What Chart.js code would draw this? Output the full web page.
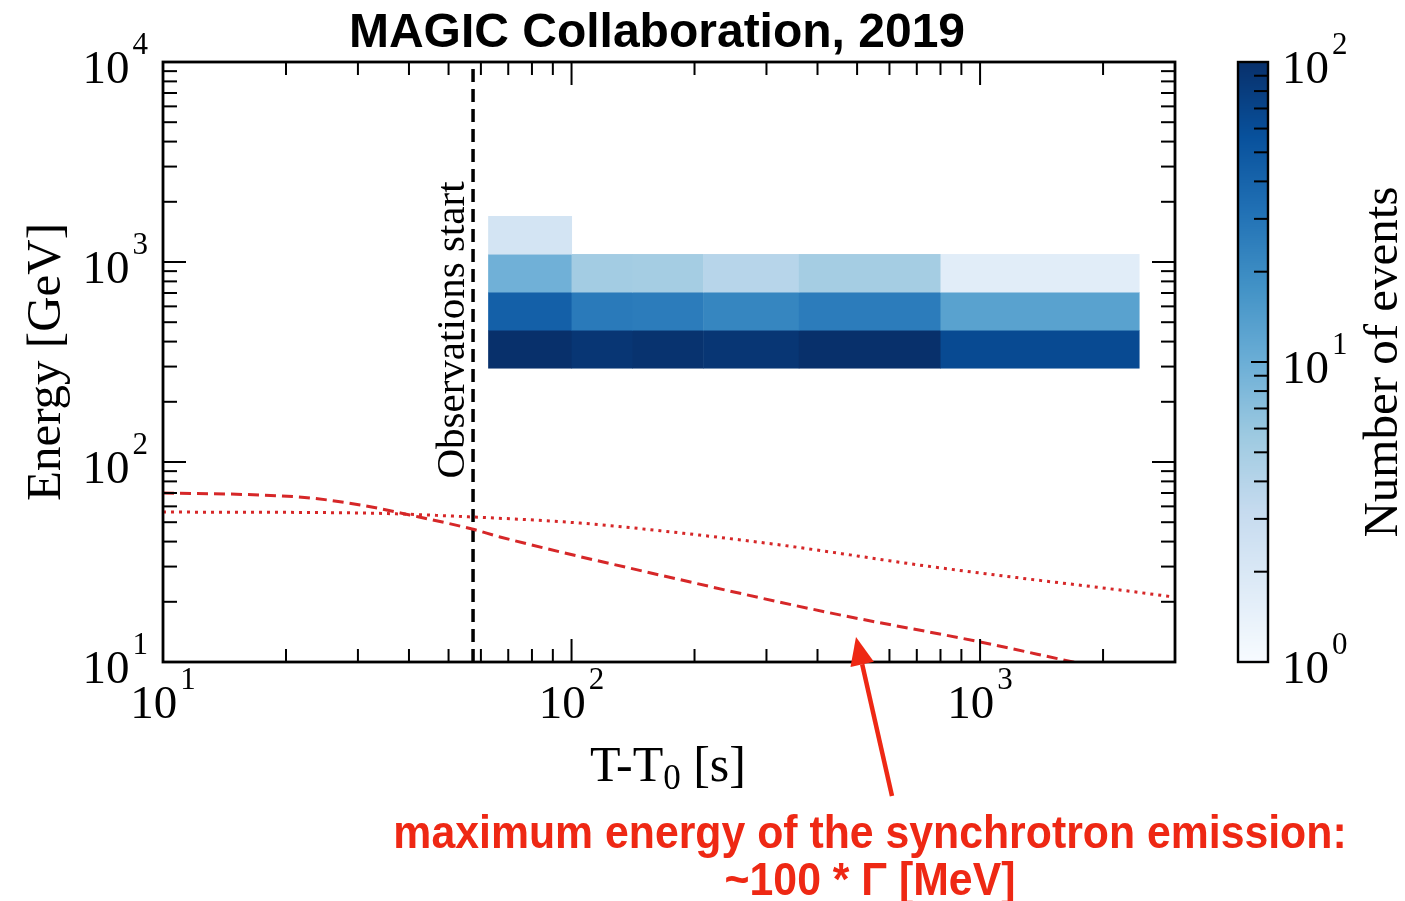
<!DOCTYPE html>
<html>
<head>
<meta charset="utf-8">
<script src="https://cdn.jsdelivr.net/npm/chart.js@4.4.1/dist/chart.umd.min.js"></script>
<style>
html,body{margin:0;padding:0;background:#fff;}
canvas{display:block;}
</style>
</head>
<body>
<canvas id="c" width="1405" height="901"></canvas>
<script>
// ---------------- data ----------------
const chartTitle = 'MAGIC Collaboration, 2019';
const yTitle = 'Energy [GeV]';
const cbTitle = 'Number of events';
const obsLabel = 'Observations start';
const noteLine1 = 'maximum energy of the synchrotron emission:';
const noteLine2 = '~100 * \u0393 [MeV]';

// heat-map bin edges (T-T0 in s, energy in GeV)
const timeEdges   = [62.5, 100, 141, 210, 360, 800, 2450];
const energyEdges = [295, 457, 708, 1096, 1698];
// counts per energy row (lowest energy first), one value per time bin; 0 = empty
const countsRow0 = [100, 90, 95, 90, 100, 63];
const countsRow1 = [43, 27, 26, 22, 26, 12.8];
const countsRow2 = [9.5, 5.2, 5.1, 3.9, 5.1, 1.66];
const countsRow3 = [2.3, 0, 0, 0, 0, 0];

// red curves
const dashedT = [10, 17.3, 22.9, 30.4, 40.2, 57.1, 66.8, 164.7, 429.4, 1000, 1689, 3000];
const dashedE = [70.0, 68.4, 66.1, 61.0, 54.3, 46.2, 42.2, 27.2, 17.6, 12.6, 10.0, 7.8];
const dottedT = [10, 30.4, 57.1, 104.9, 184.4, 323.9, 429.4, 713.1, 1253, 2201, 3000];
const dottedE = [56.2, 55.6, 53.1, 49.5, 44.2, 38.5, 35.5, 30.5, 26.3, 22.9, 21.1];

const obsStart = 57.4;
const xRange = [10, 3000];
const yRange = [10, 10000];
const cbRange = [1, 100];
const xTickExps = [1, 2, 3];
const yTickExps = [1, 2, 3, 4];
const cbTickExps = [0, 1, 2];

// ---------------- helpers ----------------
const SERIF = "'Liberation Serif','Times New Roman',serif";
const SANS = "'Liberation Sans',Arial,sans-serif";
const BLUES = [[247,251,255],[222,235,247],[198,219,239],[158,202,225],[107,174,214],[66,146,198],[33,113,181],[8,81,156],[8,48,107]];
function blues(t){
  t = Math.max(0, Math.min(1, t));
  const p = t * 8, i = Math.min(7, Math.floor(p)), f = p - i;
  const a = BLUES[i], b = BLUES[i+1];
  return 'rgb(' + [0,1,2].map(k => Math.round(a[k] + (b[k]-a[k])*f)).join(',') + ')';
}
function pts(xs, ys){ return xs.map((x,i)=>({x:x, y:ys[i]})); }
function decadeTicks(lo, hi){
  const major = [], minor = [];
  for (let d = Math.pow(10, Math.floor(Math.log10(lo))); d <= hi; d *= 10){
    for (let m = 1; m <= 9; m++){
      const v = m * d;
      if (v < lo*0.999 || v > hi*1.001) continue;
      (m === 1 ? major : minor).push(v);
    }
  }
  return {major, minor};
}
// draw "10^exp", anchored by align ('left','right','center') at x, baseline y
function drawPow(ctx, exp, x, y, align, baseSize, expSize){
  ctx.font = baseSize + 'px ' + SERIF;
  const wb = ctx.measureText('10').width;
  ctx.font = expSize + 'px ' + SERIF;
  const we = ctx.measureText(String(exp)).width;
  const gap = 3;
  const total = wb + gap + we;
  let x0 = x;
  if (align === 'right') x0 = x - total;
  else if (align === 'center') x0 = x - total/2;
  ctx.textAlign = 'left';
  ctx.textBaseline = 'alphabetic';
  ctx.font = baseSize + 'px ' + SERIF;
  ctx.fillText('10', x0, y);
  ctx.font = expSize + 'px ' + SERIF;
  ctx.fillText(String(exp), x0 + wb + gap, y - 29);
}

// ---------------- plugins ----------------
const heatmapPlugin = {
  id: 'heatmap',
  beforeDatasetsDraw(chart){
    const {ctx, scales} = chart;
    const xs = scales.x, ys = scales.y, cb = scales.cb;
    const rows = [countsRow0, countsRow1, countsRow2, countsRow3];
    ctx.save();
    rows.forEach((row, r) => {
      row.forEach((v, c) => {
        if (!v) return;
        const x0 = xs.getPixelForValue(timeEdges[c]), x1 = xs.getPixelForValue(timeEdges[c+1]);
        const y0 = ys.getPixelForValue(energyEdges[r]), y1 = ys.getPixelForValue(energyEdges[r+1]);
        const frac = (cb.bottom - cb.getPixelForValue(Math.min(v, cbRange[1]))) / (cb.bottom - cb.top);
        ctx.fillStyle = blues(frac);
        ctx.fillRect(x0, y1, x1 - x0 + 0.5, y0 - y1 + 0.5);
      });
    });
    ctx.restore();
  }
};

const decorPlugin = {
  id: 'decor',
  afterDraw(chart){
    const {ctx, chartArea: ca, scales} = chart;
    const xs = scales.x, ys = scales.y, cb = scales.cb;
    ctx.save();
    ctx.fillStyle = '#000';
    ctx.strokeStyle = '#000';

    // frame
    ctx.lineWidth = 2.8;
    ctx.strokeRect(ca.left, ca.top, ca.right - ca.left, ca.bottom - ca.top);

    // inward ticks
    ctx.lineWidth = 2;
    const xt = decadeTicks(xRange[0], xRange[1]);
    const yt = decadeTicks(yRange[0], yRange[1]);
    const tick = (x0,y0,x1,y1) => { ctx.beginPath(); ctx.moveTo(x0,y0); ctx.lineTo(x1,y1); ctx.stroke(); };
    [[xt.major, 23], [xt.minor, 13]].forEach(([vals, len]) => vals.forEach(v => {
      const p = xs.getPixelForValue(v);
      tick(p, ca.bottom, p, ca.bottom - len);
      tick(p, ca.top, p, ca.top + len);
    }));
    [[yt.major, 23], [yt.minor, 14]].forEach(([vals, len]) => vals.forEach(v => {
      const p = ys.getPixelForValue(v);
      tick(ca.left, p, ca.left + len, p);
      tick(ca.right, p, ca.right - len, p);
    }));

    // tick labels
    xTickExps.forEach(e => drawPow(ctx, e, xs.getPixelForValue(Math.pow(10, e)), ca.bottom + 56, 'center', 47, 31));
    yTickExps.forEach(e => drawPow(ctx, e, ca.left - 15, ys.getPixelForValue(Math.pow(10, e)) + 21, 'right', 47, 31));

    // axis titles
    ctx.font = '49px ' + SERIF;
    ctx.textAlign = 'center';
    ctx.textBaseline = 'alphabetic';
    ctx.save();
    ctx.translate(60, (ca.top + ca.bottom)/2);
    ctx.rotate(-Math.PI/2);
    ctx.fillText(yTitle, 0, 0);
    ctx.restore();

    // x title "T-T0 [s]" with subscript
    {
      const a = 'T-T', sub = '0', b = ' [s]';
      ctx.font = '50px ' + SERIF; const wa = ctx.measureText(a).width, wb = ctx.measureText(b).width;
      ctx.font = '35px ' + SERIF; const ws = ctx.measureText(sub).width;
      const total = wa + ws + wb;
      let x = 668 - total/2;
      const y = 781;
      ctx.textAlign = 'left';
      ctx.font = '50px ' + SERIF; ctx.fillText(a, x, y); x += wa;
      ctx.font = '35px ' + SERIF; ctx.fillText(sub, x, y + 8); x += ws;
      ctx.font = '50px ' + SERIF; ctx.fillText(b, x, y);
    }

    // chart title
    ctx.font = 'bold 48px ' + SANS;
    ctx.textAlign = 'center';
    ctx.fillText(chartTitle, 657, 47);

    // observations start label
    ctx.font = '41px ' + SERIF;
    ctx.save();
    ctx.translate(xs.getPixelForValue(obsStart) - 9, 330);
    ctx.rotate(-Math.PI/2);
    ctx.textAlign = 'center';
    ctx.fillText(obsLabel, 0, 0);
    ctx.restore();

    // colour bar
    const cbL = ca.right + 63, cbR = ca.right + 93;
    for (let y = Math.floor(cb.top); y < Math.ceil(cb.bottom); y++){
      ctx.fillStyle = blues((cb.bottom - (y + 0.5)) / (cb.bottom - cb.top));
      ctx.fillRect(cbL, y, cbR - cbL, 1);
    }
    ctx.fillStyle = '#000';
    ctx.lineWidth = 2;
    const ct = decadeTicks(cbRange[0], cbRange[1]);
    [[ct.major, 17], [ct.minor, 14]].forEach(([vals, len]) => vals.forEach(v => {
      const p = cb.getPixelForValue(v);
      tick(cbR, p, cbR - len, p);
    }));
    ctx.lineWidth = 2.4;
    ctx.strokeRect(cbL, cb.top, cbR - cbL, cb.bottom - cb.top);
    cbTickExps.forEach(e => drawPow(ctx, e, cbR + 14, cb.getPixelForValue(Math.pow(10, e)) + 21, 'left', 47, 31));
    ctx.font = '49px ' + SERIF;
    ctx.textAlign = 'center';
    ctx.save();
    ctx.translate(1397, (cb.top + cb.bottom)/2);
    ctx.rotate(-Math.PI/2);
    ctx.fillText(cbTitle, 0, 0);
    ctx.restore();

    // red annotation: arrow + text
    const red = '#EE2814';
    ctx.strokeStyle = red; ctx.fillStyle = red;
    ctx.lineWidth = 4.5;
    const tip = [856, 637], tail = [892, 796];
    const ang = Math.atan2(tip[1]-tail[1], tip[0]-tail[0]);
    const hl = 28, hw = 12;
    const bx = tip[0] - hl*Math.cos(ang), by = tip[1] - hl*Math.sin(ang);
    ctx.beginPath(); ctx.moveTo(tail[0], tail[1]); ctx.lineTo(bx, by); ctx.stroke();
    ctx.beginPath();
    ctx.moveTo(tip[0], tip[1]);
    ctx.lineTo(bx + hw*Math.sin(ang), by - hw*Math.cos(ang));
    ctx.lineTo(bx - hw*Math.sin(ang), by + hw*Math.cos(ang));
    ctx.closePath(); ctx.fill();

    ctx.font = 'bold 46px ' + SANS;
    ctx.textAlign = 'center';
    [[noteLine1, 848], [noteLine2, 895]].forEach(([t, y]) => {
      ctx.save();
      ctx.translate(870, y);
      ctx.scale(0.93, 1);
      ctx.fillText(t, 0, 0);
      ctx.restore();
    });
    ctx.restore();
  }
};

// ---------------- chart ----------------
const redLine = '#d62728';
new Chart(document.getElementById('c'), {
  type: 'scatter',
  data: {
    datasets: [
      { data: pts(dashedT, dashedE), showLine: true, borderColor: redLine, borderWidth: 3,
        borderDash: [11, 6], pointRadius: 0, cubicInterpolationMode: 'monotone', clip: 0 },
      { data: pts(dottedT, dottedE), showLine: true, borderColor: redLine, borderWidth: 3,
        borderDash: [3, 5], pointRadius: 0, cubicInterpolationMode: 'monotone', clip: 0 },
      { data: [{x: obsStart, y: yRange[0]}, {x: obsStart, y: yRange[1]}], showLine: true,
        borderColor: '#000', borderWidth: 3.5, borderDash: [13, 7], pointRadius: 0, clip: 0 }
    ]
  },
  options: {
    responsive: false,
    animation: false,
    events: [],
    layout: { padding: { left: 163, right: 230, top: 62, bottom: 239 } },
    plugins: { legend: { display: false }, tooltip: { enabled: false }, title: { display: false } },
    scales: {
      x: { type: 'logarithmic', min: xRange[0], max: xRange[1], display: false, grid: { display: false } },
      y: { type: 'logarithmic', min: yRange[0], max: yRange[1], display: false, grid: { display: false } },
      cb: { type: 'logarithmic', axis: 'y', position: 'right', min: cbRange[0], max: cbRange[1], display: false, grid: { display: false } }
    }
  },
  plugins: [heatmapPlugin, decorPlugin]
});
</script>
</body>
</html>
